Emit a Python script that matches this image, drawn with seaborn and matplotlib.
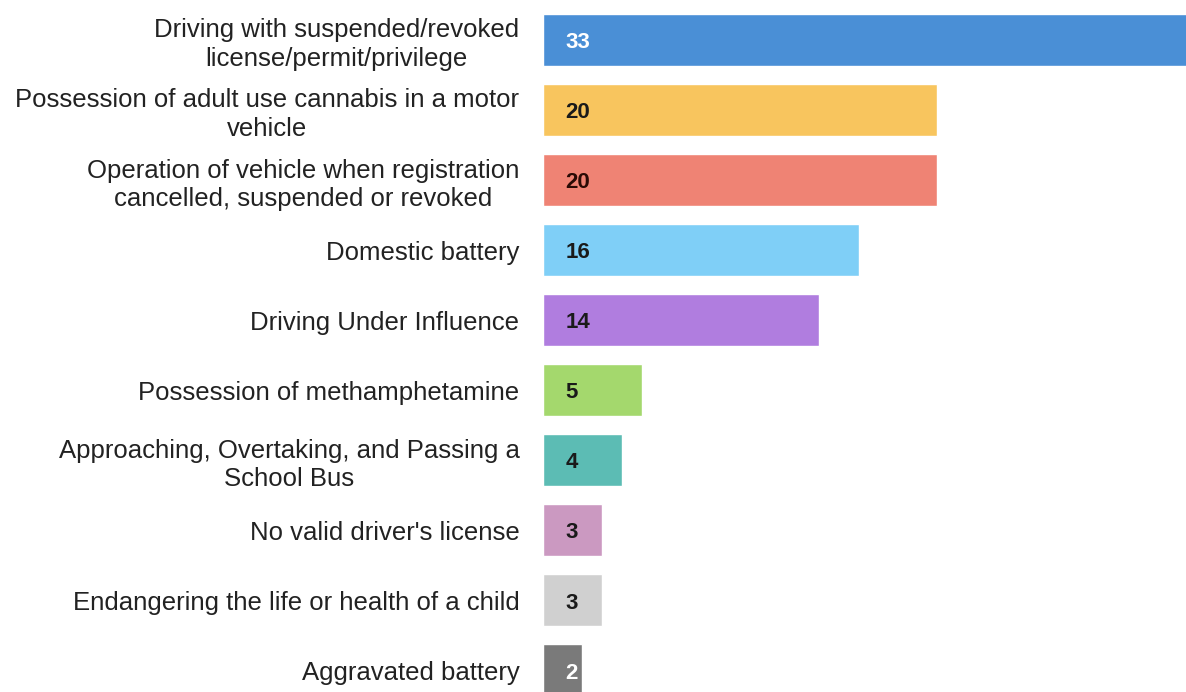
import matplotlib
matplotlib.use("Agg")
import matplotlib.pyplot as plt
import seaborn as sns
import pandas as pd

categories = [
    "Driving with suspended/revoked\nlicense/permit/privilege",
    "Possession of adult use cannabis in a motor\nvehicle",
    "Operation of vehicle when registration\ncancelled, suspended or revoked",
    "Domestic battery",
    "Driving Under Influence",
    "Possession of methamphetamine",
    "Approaching, Overtaking, and Passing a\nSchool Bus",
    "No valid driver's license",
    "Endangering the life or health of a child",
    "Aggravated battery",
]
values = [33, 20, 20, 16, 14, 5, 4, 3, 3, 2]
colors = ["#4a8fd6", "#f8c55e", "#ef8374", "#7fcff7", "#b07ddf",
          "#a4d86d", "#5cbcb4", "#cb99c1", "#d0d0d0", "#7a7a7a"]
text_colors = ["white", "#1a1a1a", "#2a0a05", "#1a1a1a", "#1a1a1a",
               "#1a1a1a", "#1a1a1a", "#1a1a1a", "#1a1a1a", "white"]

df = pd.DataFrame({"category": categories, "value": values})

sns.set_theme(style="white")
plt.rcParams["font.family"] = ["Liberation Sans", "DejaVu Sans"]

fig = plt.figure(figsize=(11.86, 6.92), dpi=100)
ax = fig.add_axes([543 / 1186, 0, 1 - 543 / 1186, 1])

sns.barplot(data=df, y="category", x="value", hue="category",
            palette=colors, legend=False, width=0.74, ax=ax,
            orient="h", saturation=1)

ax.set_xlim(0, 32.6)
ax.set_ylim(9.31, -0.57)
ax.set_xlabel("")
ax.set_ylabel("")
ax.set_xticks([])
for s in ax.spines.values():
    s.set_visible(False)
ax.tick_params(axis="y", length=0, pad=17, labelsize=18.5, labelcolor="#222222")
for lbl in ax.get_yticklabels():
    lbl.set_multialignment("center")
    lbl.set_linespacing(1.25)

for i, (v, tc) in enumerate(zip(values, text_colors)):
    ax.annotate(str(v), xy=(0, i), xytext=(16, -2), textcoords="offset points",
                ha="left", va="center", fontsize=16, fontweight="bold", color=tc)

fig.savefig("out.png", dpi=100)
